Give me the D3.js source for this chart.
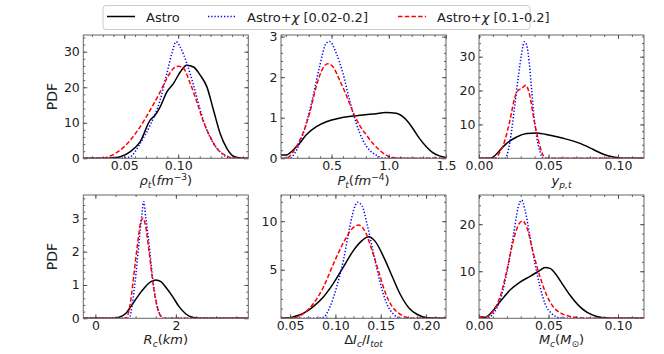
<!DOCTYPE html>
<html>
<head>
<meta charset="utf-8">
<script src="https://cdn.jsdelivr.net/npm/d3@7"></script>
<style>
body { margin: 0; background: #fff; }
text { font-family: "DejaVu Sans", sans-serif; fill: #222; }
</style>
</head>
<body>
<svg id="fig" width="664" height="354"></svg>
<script>
// series: [x, pdf] pairs
const rhoAstro = [[0.012,0],[0.034,0],[0.037,0.05],[0.0463,0.45],[0.0556,1.9],[0.0648,4.7],[0.0741,10.8],[0.0787,12.2],[0.0833,14.5],[0.0895,18.7],[0.0957,21.1],[0.1019,24.3],[0.108,26.2],[0.1142,25.7],[0.1204,23.4],[0.1266,20.1],[0.1327,13.6],[0.1389,7.0],[0.1451,2.8],[0.1512,0.6],[0.1574,0.1],[0.165,0]];
const rhoWide = [[0.012,0],[0.049,0],[0.0556,0.45],[0.0648,4.2],[0.0741,9.4],[0.0833,16.4],[0.0895,23.9],[0.0941,29.5],[0.0981,32.8],[0.1019,31.3],[0.108,26.7],[0.1142,20.6],[0.1204,13.6],[0.1266,7.9],[0.1327,4.2],[0.1404,1.4],[0.1481,0.1],[0.165,0]];
const rhoNarrow = [[0.012,0],[0.028,0],[0.037,0.65],[0.0463,2.3],[0.0556,5.1],[0.0648,8.9],[0.0741,13.6],[0.0833,18.7],[0.0895,22.5],[0.0957,25.3],[0.1003,25.9],[0.1049,25.3],[0.1111,21.1],[0.1173,15.9],[0.1234,10.3],[0.1296,6.1],[0.1358,2.8],[0.1435,0.9],[0.1512,0.1],[0.165,0]];

const ptAstro = [[0.058,0.08],[0.105,0.08],[0.162,0.2],[0.221,0.37],[0.279,0.58],[0.367,0.78],[0.454,0.9],[0.57,0.99],[0.716,1.05],[0.86,1.09],[0.977,1.13],[1.065,1.11],[1.152,0.95],[1.209,0.74],[1.268,0.49],[1.326,0.29],[1.384,0.14],[1.442,0.06],[1.5,0.02]];
const ptWide = [[0.058,0],[0.133,0],[0.177,0.12],[0.221,0.37],[0.279,0.86],[0.337,1.52],[0.395,2.26],[0.454,2.84],[0.483,2.88],[0.541,2.59],[0.599,2.1],[0.657,1.44],[0.716,0.86],[0.773,0.45],[0.832,0.2],[0.89,0.08],[0.948,0.01],[1.5,0]];
const ptNarrow = [[0.058,0],[0.1,0],[0.133,0.05],[0.192,0.29],[0.25,0.62],[0.308,1.11],[0.366,1.77],[0.424,2.22],[0.468,2.33],[0.511,2.26],[0.57,1.93],[0.628,1.56],[0.686,1.15],[0.744,0.82],[0.803,0.58],[0.86,0.37],[0.919,0.2],[0.977,0.08],[1.035,0.02],[1.1,0],[1.5,0]];

const ypAstro = [[0,0],[0.0079,0],[0.0103,0.4],[0.0151,2.4],[0.0199,4.4],[0.0271,6.3],[0.0343,7.3],[0.0415,7.5],[0.0511,6.8],[0.0606,5.9],[0.0727,4.4],[0.0822,2.6],[0.0894,1.2],[0.0966,0.4],[0.1038,0.05],[0.1187,0]];
const ypWide = [[0,0],[0.0187,0],[0.0211,2.4],[0.0235,8.3],[0.0259,16.2],[0.0283,24.1],[0.0307,31],[0.0326,34.4],[0.0343,33.5],[0.0362,28],[0.0379,20.1],[0.0396,12.2],[0.0415,6.3],[0.0439,1.9],[0.0463,0],[0.1187,0]];
const ypNarrow = [[0,0],[0.0115,0],[0.0151,1.9],[0.0187,5.4],[0.0223,11.3],[0.0259,18.2],[0.0283,20.1],[0.0307,20.6],[0.0336,21.6],[0.0367,18.2],[0.0396,11.3],[0.0427,5.4],[0.0455,1.4],[0.0475,0.1],[0.05,0],[0.1187,0]];

const rcAstro = [[-0.3,0],[0.45,0],[0.59,0.03],[0.76,0.15],[0.88,0.35],[1.05,0.65],[1.21,0.9],[1.38,1.1],[1.5,1.15],[1.63,1.1],[1.75,0.93],[1.92,0.65],[2.08,0.35],[2.25,0.13],[2.41,0.03],[2.6,0],[3.8,0]];
const rcWide = [[-0.3,0],[0.84,0],[0.92,0.45],[1.01,1.35],[1.09,2.35],[1.16,3.15],[1.2,3.5],[1.25,3.05],[1.34,2.15],[1.42,1.25],[1.5,0.55],[1.59,0.15],[1.67,0],[3.8,0]];
const rcNarrow = [[-0.3,0],[0.76,0],[0.88,0.55],[0.96,1.35],[1.05,2.25],[1.13,2.9],[1.19,3.0],[1.25,2.75],[1.34,1.95],[1.42,1.15],[1.5,0.55],[1.6,0.12],[1.71,0],[3.8,0]];

const diAstro = [[0.04,0],[0.05,0.05],[0.0533,0.15],[0.0644,0.5],[0.0756,1.2],[0.0867,2.2],[0.0978,3.6],[0.1089,5.3],[0.12,7.0],[0.1293,8.0],[0.1367,8.4],[0.1441,7.9],[0.1533,6.3],[0.1627,4.3],[0.1719,2.4],[0.1811,1.07],[0.1904,0.39],[0.2016,0.05],[0.222,0]];
const diWide = [[0.04,0],[0.0756,0],[0.0867,0.1],[0.0941,1.2],[0.1016,3.3],[0.1089,6.0],[0.1144,8.7],[0.12,11.1],[0.1244,11.95],[0.1293,11.6],[0.1349,9.7],[0.1404,7.4],[0.146,5.0],[0.1516,2.9],[0.1571,1.4],[0.1644,0.4],[0.1719,0],[0.222,0]];
const diNarrow = [[0.04,0],[0.0533,0.05],[0.0644,0.45],[0.0756,1.5],[0.0867,3.2],[0.0978,5.6],[0.1089,7.8],[0.1182,9.2],[0.1256,9.6],[0.133,8.9],[0.1404,7.0],[0.1478,4.8],[0.1552,2.6],[0.1627,1.2],[0.1719,0.4],[0.1811,0.05],[0.19,0],[0.222,0]];

const mcAstro = [[0,0.4],[0.0043,0.2],[0.0091,1.3],[0.0151,3.5],[0.0223,6.0],[0.0295,7.7],[0.0367,8.9],[0.0439,10.2],[0.0475,10.8],[0.0511,10.6],[0.0559,9.1],[0.0606,7.0],[0.0655,4.9],[0.0714,2.8],[0.0775,1.3],[0.0847,0.4],[0.0919,0.05],[0.1,0],[0.1187,0]];
const mcWide = [[0,0.3],[0.0055,0],[0.0103,1.0],[0.0151,3.8],[0.0199,9.5],[0.0247,17.5],[0.0283,23.7],[0.0307,25.1],[0.0331,23.0],[0.0367,17.3],[0.0403,11.6],[0.0439,6.7],[0.0475,3.1],[0.0523,1.0],[0.0583,0.1],[0.065,0],[0.1187,0]];
const mcNarrow = [[0,0.4],[0.0055,0.3],[0.0103,1.6],[0.0151,4.5],[0.0199,10.0],[0.0247,16.5],[0.0283,19.8],[0.0314,20.7],[0.0343,19.4],[0.0391,13.8],[0.0439,8.8],[0.0487,4.9],[0.0535,2.4],[0.0595,1.0],[0.0655,0.4],[0.0727,0.1],[0.08,0],[0.1187,0]];

// tick labels
const rhoXTicks = [0.05, 0.10], rhoYTicks = [0, 10, 20, 30];
const ptXTicks = [0.5, 1.0, 1.5], ptYTicks = [0, 1, 2, 3];
const ypXTicks = [0.00, 0.05, 0.10], ypYTicks = [10, 20, 30];
const rcXTicks = [0, 2], rcYTicks = [0, 1, 2, 3];
const diXTicks = [0.05, 0.10, 0.15, 0.20], diYTicks = [5, 10];
const mcXTicks = [0.00, 0.05, 0.10], mcYTicks = [10, 20];

const seriesNames = ["Astro", "Astro+\u03c7 [0.02-0.2]", "Astro+\u03c7 [0.1-0.2]"];
const seriesColors = ["#000000", "#0000ff", "#ff0000"];
const seriesDash = [null, "1.3,1.9", "4.5,2.2"];

const svg = d3.select("#fig");
const colX = [83.3, 281, 479];
const rowY = [35, 195];
const pw = 165, ph = 123.3;

const panels = [
    { col: 0, row: 0, xd: [0.012, 0.165], yd: [0, 34.7], xt: rhoXTicks, yt: rhoYTicks, xf: ".2f", yf: "d",
      xm: d3.range(0.02, 0.165, 0.01), ym: d3.range(0, 34.7, 2), data: [rhoAstro, rhoWide, rhoNarrow], pdf: true,
      label: [["\u03c1", 1], ["t", 1, "sub"], ["("], ["fm", 1], ["\u22123", 0, "sup"], [")"]] },
    { col: 1, row: 0, xd: [0.058, 1.5], yd: [0, 3.04], xt: ptXTicks, yt: ptYTicks, xf: ".1f", yf: "d",
      xm: d3.range(0.1, 1.5, 0.1), ym: d3.range(0, 3.04, 0.2), data: [ptAstro, ptWide, ptNarrow],
      label: [["P", 1], ["t", 1, "sub"], ["("], ["fm", 1], ["\u22124", 0, "sup"], [")"]] },
    { col: 2, row: 0, xd: [0, 0.1187], yd: [0, 36.4], xt: ypXTicks, yt: ypYTicks, xf: ".2f", yf: "d",
      xm: d3.range(0, 0.1187, 0.01), ym: d3.range(0, 36.4, 2), data: [ypAstro, ypWide, ypNarrow],
      label: [["y", 1], ["p,t", 1, "sub"]] },
    { col: 0, row: 1, xd: [-0.3, 3.8], yd: [0, 3.7], xt: rcXTicks, yt: rcYTicks, xf: "d", yf: "d",
      xm: d3.range(0, 3.8, 0.5), ym: d3.range(0, 3.7, 0.2), data: [rcAstro, rcWide, rcNarrow], pdf: true,
      label: [["R", 1], ["c", 1, "sub"], ["("], ["km", 1], [")"]] },
    { col: 1, row: 1, xd: [0.04, 0.222], yd: [0, 12.7], xt: diXTicks, yt: diYTicks, xf: ".2f", yf: "d",
      xm: d3.range(0.04, 0.222, 0.01), ym: d3.range(0, 12.7, 1), data: [diAstro, diWide, diNarrow],
      label: [["\u0394"], ["I", 1], ["c", 1, "sub"], ["/"], ["I", 1], ["tot", 1, "sub"]] },
    { col: 2, row: 1, xd: [0, 0.1187], yd: [0, 26.2], xt: mcXTicks, yt: mcYTicks, xf: ".2f", yf: "d",
      xm: d3.range(0, 0.1187, 0.01), ym: d3.range(0, 26.2, 2), data: [mcAstro, mcWide, mcNarrow],
      label: [["M", 1], ["c", 1, "sub"], ["("], ["M", 1], ["\u2299", 0, "sub"], [")"]] }
];

function mathLabel(sel, parts, fs) {
    let cur = 0;
    parts.forEach(p => {
        const target = p[2] === "sub" ? fs * 0.26 : p[2] === "sup" ? -fs * 0.36 : 0;
        sel.append("tspan")
            .attr("dy", target - cur)
            .style("font-size", (p[2] ? fs * 0.7 : fs) + "px")
            .style("font-style", p[1] ? "italic" : "normal")
            .text(p[0]);
        cur = target;
    });
}

function styleAxis(g) {
    g.select(".domain").remove();
    g.selectAll(".tick line").attr("stroke", "#333").attr("stroke-width", 0.8);
    g.selectAll("text").style("font-size", "12.5px").attr("fill", "#222");
}

panels.forEach((p, i) => {
    const g = svg.append("g").attr("transform", `translate(${colX[p.col]},${rowY[p.row]})`);
    const x = d3.scaleLinear().domain(p.xd).range([0, pw]);
    const y = d3.scaleLinear().domain(p.yd).range([ph, 0]);

    g.append("clipPath").attr("id", "clip" + i)
        .append("rect").attr("width", pw).attr("height", ph);

    const line = d3.line()
        .x(d => x(d[0]))
        .y(d => y(d[1]))
        .curve(d3.curveMonotoneX);

    p.data.forEach((s, k) => {
        g.append("path")
            .datum(s)
            .attr("clip-path", `url(#clip${i})`)
            .attr("fill", "none")
            .attr("stroke", seriesColors[k])
            .attr("stroke-width", 1.5)
            .attr("stroke-dasharray", seriesDash[k])
            .attr("d", line);
    });

    // minor ticks, all four sides
    const inside = v => v > 1e-9;
    g.append("g").attr("transform", `translate(0,${ph})`)
        .call(d3.axisBottom(x).tickValues(p.xm).tickSize(-2).tickFormat("")).call(styleAxis);
    g.append("g")
        .call(d3.axisTop(x).tickValues(p.xm).tickSize(-2).tickFormat("")).call(styleAxis);
    g.append("g")
        .call(d3.axisLeft(y).tickValues(p.ym.filter(inside)).tickSize(-2).tickFormat("")).call(styleAxis);
    g.append("g").attr("transform", `translate(${pw},0)`)
        .call(d3.axisRight(y).tickValues(p.ym.filter(inside)).tickSize(-2).tickFormat("")).call(styleAxis);

    // major ticks
    g.append("g").attr("transform", `translate(0,${ph})`)
        .call(d3.axisBottom(x).tickValues(p.xt).tickSize(-4).tickPadding(2.5).tickFormat(d3.format(p.xf))).call(styleAxis);
    g.append("g")
        .call(d3.axisTop(x).tickValues(p.xt).tickSize(-4).tickFormat("")).call(styleAxis);
    g.append("g")
        .call(d3.axisLeft(y).tickValues(p.yt).tickSize(-4).tickPadding(3.5).tickFormat(d3.format(p.yf))).call(styleAxis);
    g.append("g").attr("transform", `translate(${pw},0)`)
        .call(d3.axisRight(y).tickValues(p.yt).tickSize(-4).tickFormat("")).call(styleAxis);

    g.append("rect")
        .attr("width", pw).attr("height", ph)
        .attr("fill", "none").attr("stroke", "#666").attr("stroke-width", 1);

    const lab = g.append("text")
        .attr("x", pw / 2).attr("y", p.row === 0 ? 149.5 : 149)
        .attr("text-anchor", "middle");
    mathLabel(lab, p.label, 13);

    if (p.pdf) {
        g.append("text")
            .attr("transform", `translate(-26.5,${ph / 2}) rotate(-90)`)
            .attr("text-anchor", "middle")
            .style("font-size", "14px")
            .text("PDF");
    }
});

// legend
const leg = svg.append("g");
leg.append("rect")
    .attr("x", 103).attr("y", 5.5).attr("width", 427).attr("height", 24).attr("rx", 3)
    .attr("fill", "#fff").attr("stroke", "#ccc").attr("stroke-width", 1);
const legX = [107, 208, 398];
seriesNames.forEach((name, k) => {
    leg.append("line")
        .attr("x1", legX[k]).attr("x2", legX[k] + 28).attr("y1", 16.5).attr("y2", 16.5)
        .attr("stroke", seriesColors[k]).attr("stroke-width", 1.5)
        .attr("stroke-dasharray", seriesDash[k]);
    const t = leg.append("text").attr("x", legX[k] + 39).attr("y", 21.5).style("font-size", "13px");
    if (k === 0) {
        t.text(name);
    } else {
        const parts = name.split("\u03c7");
        t.append("tspan").text(parts[0]);
        t.append("tspan").style("font-style", "italic").text("\u03c7");
        t.append("tspan").text(parts[1]);
    }
});
</script>
</body>
</html>
